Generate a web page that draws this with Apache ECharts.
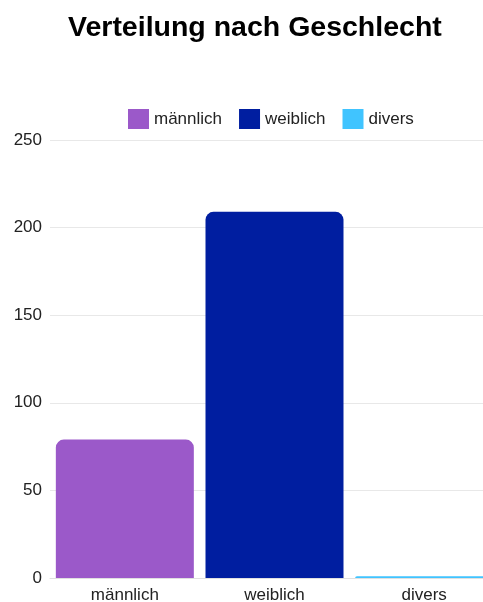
<!DOCTYPE html>
<html>
<head>
<meta charset="utf-8">
<script src="https://cdn.jsdelivr.net/npm/echarts@6/dist/echarts.min.js"></script>
<style>
  html, body { margin: 0; padding: 0; background: #fff; }
  #chart { width: 483px; height: 602px; }
</style>
</head>
<body>
<div id="chart"></div>
<script>
// Gender breakdown: one bar per category, each category its own legend entry
const categories = ['männlich', 'weiblich', 'divers'];
const counts = [79, 209, 1];
const colors = ['#9b59c9', '#001ea0', '#40c4ff'];
const yTicks = { min: 0, max: 250, interval: 50 };

const font = 'Liberation Sans, Arial, Helvetica, sans-serif';

// each series carries only its own category's value so the bars use full category width
const series = categories.map((name, i) => ({
  name: name,
  type: 'bar',
  stack: 'total',
  barCategoryGap: '7.8%',
  data: categories.map((c, j) => (j === i ? counts[i] : '-')),
  itemStyle: { color: colors[i], borderRadius: [8, 8, 0, 0] }
}));

const chart = echarts.init(document.getElementById('chart'), null, { renderer: 'canvas' });
chart.setOption({
  animation: false,
  title: {
    text: 'Verteilung nach Geschlecht',
    left: 63,
    top: 9,
    textStyle: { fontFamily: font, fontSize: 28.5, fontWeight: 'bold', color: '#000' }
  },
  legend: {
    data: categories,
    left: 123,
    top: 104,
    itemWidth: 21,
    itemHeight: 20,
    itemGap: 17,
    icon: 'rect',
    textStyle: { fontFamily: font, fontSize: 17, color: '#222' }
  },
  // plot area runs a little past the right edge of the canvas
  grid: { left: 50, top: 140, width: 449, height: 438, outerBoundsMode: 'none', containLabel: false },
  xAxis: {
    type: 'category',
    data: categories,
    axisLine: { show: true, lineStyle: { color: '#e0e0e0', width: 1 } },
    axisTick: { show: false },
    axisLabel: { fontFamily: font, fontSize: 17, color: '#222', margin: 9 }
  },
  yAxis: {
    type: 'value',
    min: yTicks.min,
    max: yTicks.max,
    interval: yTicks.interval,
    axisLine: { show: false },
    axisTick: { show: false },
    splitLine: { lineStyle: { color: '#e8e8e8', width: 1 } },
    axisLabel: { fontFamily: font, fontSize: 17, color: '#222', margin: 8 }
  },
  series: series
});
</script>
</body>
</html>
